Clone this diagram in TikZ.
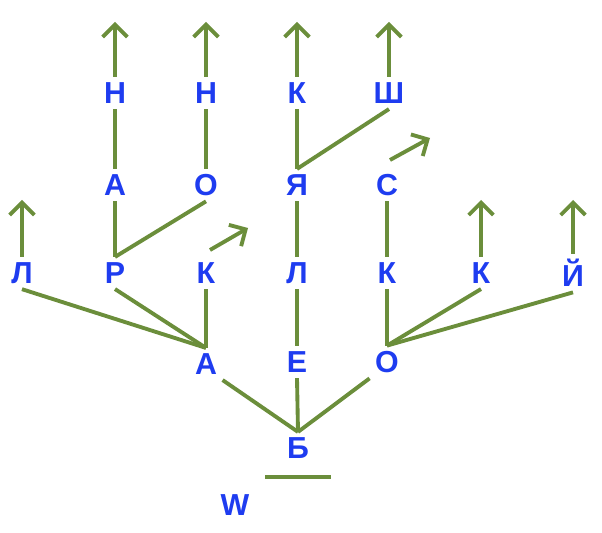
\documentclass[tikz,border=0pt]{standalone}
\usepackage{fontspec}
\setmainfont{Liberation Sans}
\usetikzlibrary{arrows.meta}
\definecolor{trieg}{RGB}{107,142,59}
\definecolor{trieb}{RGB}{30,60,240}
\tikzset{>={Straight Barb[length=7pt,width=14pt]}}
\tikzset{letter/.style={text=trieb,font=\bfseries\LARGE,inner sep=3pt}}
\tikzset{edge/.style={draw=trieg,line width=2.2pt}}
\begin{document}
\begin{tikzpicture}[x=0.02cm,y=-0.02cm]
                \useasboundingbox (0,0) rectangle (602,533);
                % root
                \node[letter] (b) at (298,448) {Б};
                \node[letter] (w) at (235,505) {W};
                \coordinate (barl) at (265,477);
                \coordinate (barr) at (331,477);
                \draw[edge] (barl) -- (barr);

                % first level
                \node[letter] (a1) at (206,364) {А};
                \node[letter] (e1) at (297,362) {Е};
                \node[letter] (o1) at (387,362) {О};

                % second level
                \node[letter] (l2) at (22,273) {Л};
                \node[letter] (r2) at (115,273) {Р};
                \node[letter] (k2) at (206,273) {К};
                \node[letter] (m2) at (297,273) {Л};
                \node[letter] (n2) at (387,273) {К};
                \node[letter] (p2) at (481,273) {К};
                \node[letter] (j2) at (573,273) {Й};

                % third level
                \node[letter] (a3) at (115,185) {А};
                \node[letter] (o3) at (206,185) {О};
                \node[letter] (ja3) at (297,185) {Я};
                \node[letter] (s3) at (387,185) {С};

                % fourth level
                \node[letter] (h4) at (115,93) {Н};
                \node[letter] (g4) at (206,93) {Н};
                \node[letter] (k4) at (297,93) {К};
                \node[letter] (sh4) at (389,93) {Ш};

                % arrow ends
                \coordinate (t1) at (115,22);
                \coordinate (t2) at (206,22);
                \coordinate (t3) at (297,22);
                \coordinate (t4) at (389,22);
                \coordinate (t5) at (22,200);
                \coordinate (t6) at (481,200);
                \coordinate (t7) at (573,200);
                \coordinate (d1) at (248,228);
                \coordinate (d2) at (430,138);
                \coordinate (d1s) at (210,250);
                \coordinate (d2s) at (390,160);

                % tree edges
                \draw[edge] (b.north) -- (a1.south east);
                \draw[edge] (b.north) -- (e1.south);
                \draw[edge] (b.north) -- (o1.south west);
                \draw[edge] (a1.north) -- (l2.south);
                \draw[edge] (a1.north) -- (r2.south);
                \draw[edge] (a1.north) -- (k2.south);
                \draw[edge] (e1.north) -- (m2.south);
                \draw[edge] (o1.north) -- (n2.south);
                \draw[edge] (o1.north) -- (p2.south);
                \draw[edge] (o1.north) -- (j2.south);
                \draw[edge] (r2.north) -- (a3.south);
                \draw[edge] (r2.north) -- (o3.south);
                \draw[edge] (m2.north) -- (ja3.south);
                \draw[edge] (n2.north) -- (s3.south);
                \draw[edge] (a3.north) -- (h4.south);
                \draw[edge] (o3.north) -- (g4.south);
                \draw[edge] (ja3.north) -- (k4.south);
                \draw[edge] (ja3.north) -- (sh4.south);

                % end arrows
                \draw[edge,->] (h4.north) -- (t1);
                \draw[edge,->] (g4.north) -- (t2);
                \draw[edge,->] (k4.north) -- (t3);
                \draw[edge,->] (sh4.north) -- (t4);
                \draw[edge,->] (l2.north) -- (t5);
                \draw[edge,->] (p2.north) -- (t6);
                \draw[edge,->] (j2.north) -- (t7);
                \draw[edge,->] (d1s) -- (d1);
                \draw[edge,->] (d2s) -- (d2);
            \end{tikzpicture}
\end{document}
